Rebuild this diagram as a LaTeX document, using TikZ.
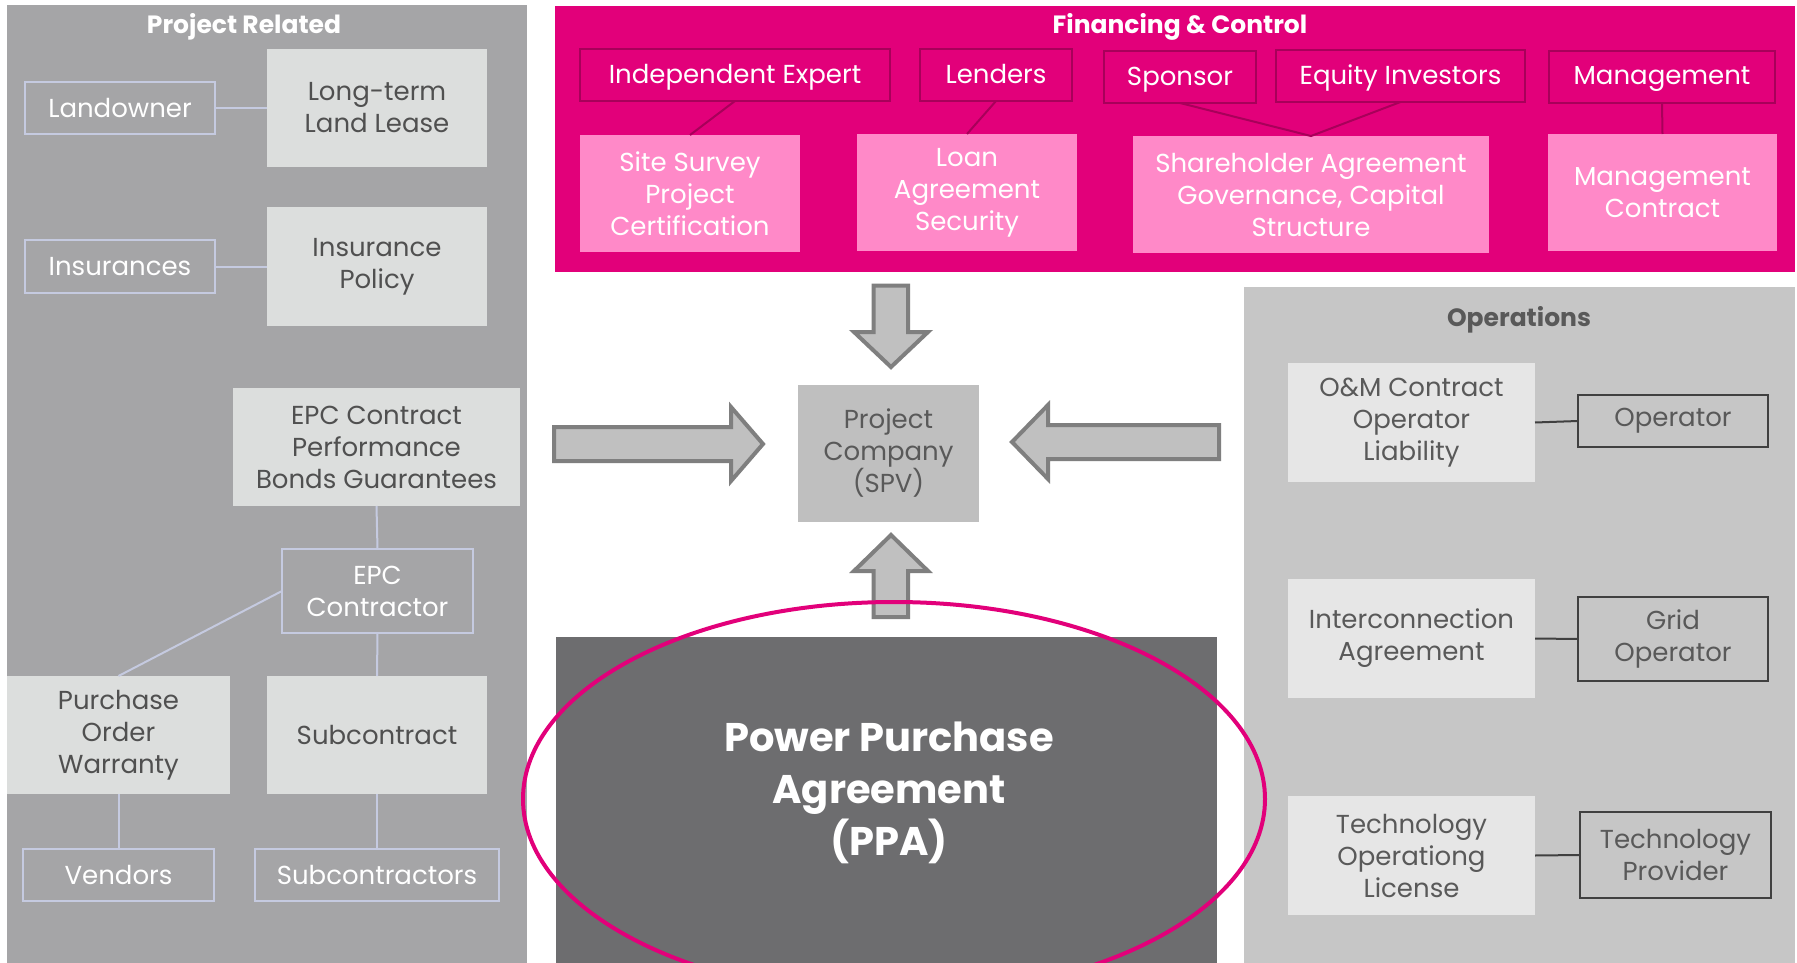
\documentclass[tikz,border=0pt]{standalone}
\usepackage{fontspec}
\setmainfont{Poppins}
\definecolor{lpan}{HTML}{A5A5A7}
\definecolor{lgtc}{HTML}{DCDEDD}
\definecolor{txtd}{HTML}{505050}
\definecolor{lavc}{HTML}{C5CAE0}
\definecolor{magc}{HTML}{E2007A}
\definecolor{dmc}{HTML}{A8005A}
\definecolor{pkc}{HTML}{FF89C8}
\definecolor{arrf}{HTML}{C0C0C0}
\definecolor{arrd}{HTML}{7F7F7F}
\definecolor{spvf}{HTML}{BFBFBF}
\definecolor{ppaf}{HTML}{6D6D6F}
\definecolor{opan}{HTML}{C6C6C6}
\definecolor{opbc}{HTML}{E6E6E6}
\definecolor{oprc}{HTML}{404040}
\definecolor{optx}{HTML}{595959}
\newcommand\bxx[7]{\node[#1, minimum width={(#5)-(#3)}, minimum height={(#6)-(#4)}] (#2) at ({((#3)+(#5))/2},{((#4)+(#6))/2}) {#7};}
\begin{document}
\begin{tikzpicture}[x=1pt,y=-1pt,
  every node/.style={inner sep=0pt, outer sep=0pt, align=center, font=\fontsize{26}{32}\selectfont},
  lav/.style={draw=lavc, line width=2pt, text=white},
  lgt/.style={fill=lgtc, text=txtd},
  dm/.style={draw=dmc, line width=2pt, text=white, text depth=2pt},
  pk/.style={fill=pkc, text=white},
  opb/.style={fill=opbc, text=optx},
  opr/.style={draw=oprc, line width=2.5pt, text=optx},
  lavline/.style={draw=lavc, line width=2pt},
  dmline/.style={draw=dmc, line width=2pt},
  opline/.style={draw=oprc, line width=2pt},
  blockarrow/.style={fill=arrf, draw=arrd, line width=4pt, line join=miter},
  ttl/.style={font=\fontsize{25}{29}\selectfont\bfseries}]
\useasboundingbox (0,0) rectangle (1797,963);
\fill[white] (0,0) rectangle (1797,963);
% panels
\fill[lpan] (7,5) rectangle (527,963);
\fill[magc] (555,6) rectangle (1795,272);
\fill[opan] (1244,287) rectangle (1795,963);
\fill[ppaf] (556,637) rectangle (1217,963);
% titles
\node[ttl, text=white] (tpr) at (244,27) {Project Related};
\node[ttl, text=white] (tfc) at (1180,27) {Financing \& Control};
\node[ttl, text=optx] (top) at (1519,320) {Operations};
% left panel
\bxx{lav}{land}{25}{82}{215}{134}{Landowner}
\bxx{lgt}{ltll}{267}{49}{487}{167}{Long-term\\Land Lease}
\bxx{lav}{ins}{25}{240}{215}{293}{Insurances}
\bxx{lgt}{ipol}{267}{207}{487}{326}{Insurance\\Policy}
\bxx{lgt}{epcc}{233}{388}{520}{506}{EPC Contract\\Performance\\Bonds Guarantees}
\bxx{lav}{epcr}{282}{549}{473}{633}{EPC\\Contractor}
\bxx{lgt}{po}{7}{676}{230}{794}{Purchase\\Order\\Warranty}
\bxx{lgt}{sub}{267}{676}{487}{794}{Subcontract}
\bxx{lav}{ven}{23}{849}{214}{901}{Vendors}
\bxx{lav}{subs}{255}{849}{499}{901}{Subcontractors}
\draw[lavline] (land.east) -- (ltll.west);
\draw[lavline] (ins.east) -- (ipol.west);
\draw[lavline] (epcc.south) -- (epcr.north);
\draw[lavline] (epcr.west) -- (po.north);
\draw[lavline] (epcr.south) -- (sub.north);
\draw[lavline] (po.south) -- (ven.north);
\draw[lavline] (sub.south) -- (subs.north);
% financing
\bxx{dm}{ie}{580}{49}{890}{101}{Independent Expert}
\bxx{dm}{len}{920}{49}{1072}{101}{Lenders}
\bxx{dm}{spo}{1104}{51}{1256}{103}{Sponsor}
\bxx{dm}{eq}{1276}{50}{1525}{102}{Equity Investors}
\bxx{dm}{mgmt}{1549}{51}{1775}{103}{Management}
\bxx{pk}{ss}{580}{135}{800}{252}{Site Survey\\Project\\Certification}
\bxx{pk}{loan}{857}{134}{1077}{251}{Loan\\Agreement\\Security}
\bxx{pk}{sha}{1133}{136}{1489}{253}{Shareholder Agreement\\Governance, Capital\\Structure}
\bxx{pk}{mc}{1548}{134}{1777}{251}{Management\\Contract}
\draw[dmline] (ie.south) -- (ss.north);
\draw[dmline] (len.south) -- (loan.north);
\draw[dmline] (spo.south) -- (sha.north) -- (eq.south);
\draw[dmline] (mgmt.south) -- (mc.north);
% operations
\bxx{opb}{om}{1288}{363}{1535}{482}{O\&M Contract\\Operator\\Liability}
\bxx{opr}{opr}{1578}{395}{1768}{447}{Operator}
\bxx{opb}{ic}{1288}{579}{1535}{698}{Interconnection\\Agreement}
\bxx{opr}{gop}{1578}{597}{1768}{681}{Grid\\Operator}
\bxx{opb}{tol}{1288}{796}{1535}{915}{Technology\\Operationg\\License}
\bxx{opr}{tp}{1580}{812}{1771}{898}{Technology\\Provider}
\draw[opline] (om.east) -- (opr.west);
\draw[opline] (ic.east) -- (gop.west);
\draw[opline] (tol.east) -- (tp.west);
% centre
\bxx{fill=spvf, text=optx}{spv}{798}{385}{979}{522}{Project\\Company\\(SPV)}
\draw[blockarrow] (873.5,285.5) -- (908,285.5) -- (908,332) -- (928,332) -- (891,367) -- (854,332) -- (873.5,332) -- cycle;
\draw[blockarrow] (554,427) -- (731,427) -- (731,407) -- (763,444) -- (731,481) -- (731,461) -- (554,461) -- cycle;
\draw[blockarrow] (1219,425) -- (1048,425) -- (1048,405) -- (1012,442) -- (1048,479) -- (1048,459) -- (1219,459) -- cycle;
\draw[blockarrow] (873.5,617) -- (908,617) -- (908,571) -- (928,571) -- (891,535) -- (854,571) -- (873.5,571) -- cycle;
\node[text=white, font=\fontsize{40}{52}\selectfont\bfseries] (ppa) at (889,793) {Power Purchase\\Agreement\\(PPA)};
\draw[magc, line width=4pt] (894,799) ellipse [x radius=371, y radius=197];
\end{tikzpicture}
\end{document}
